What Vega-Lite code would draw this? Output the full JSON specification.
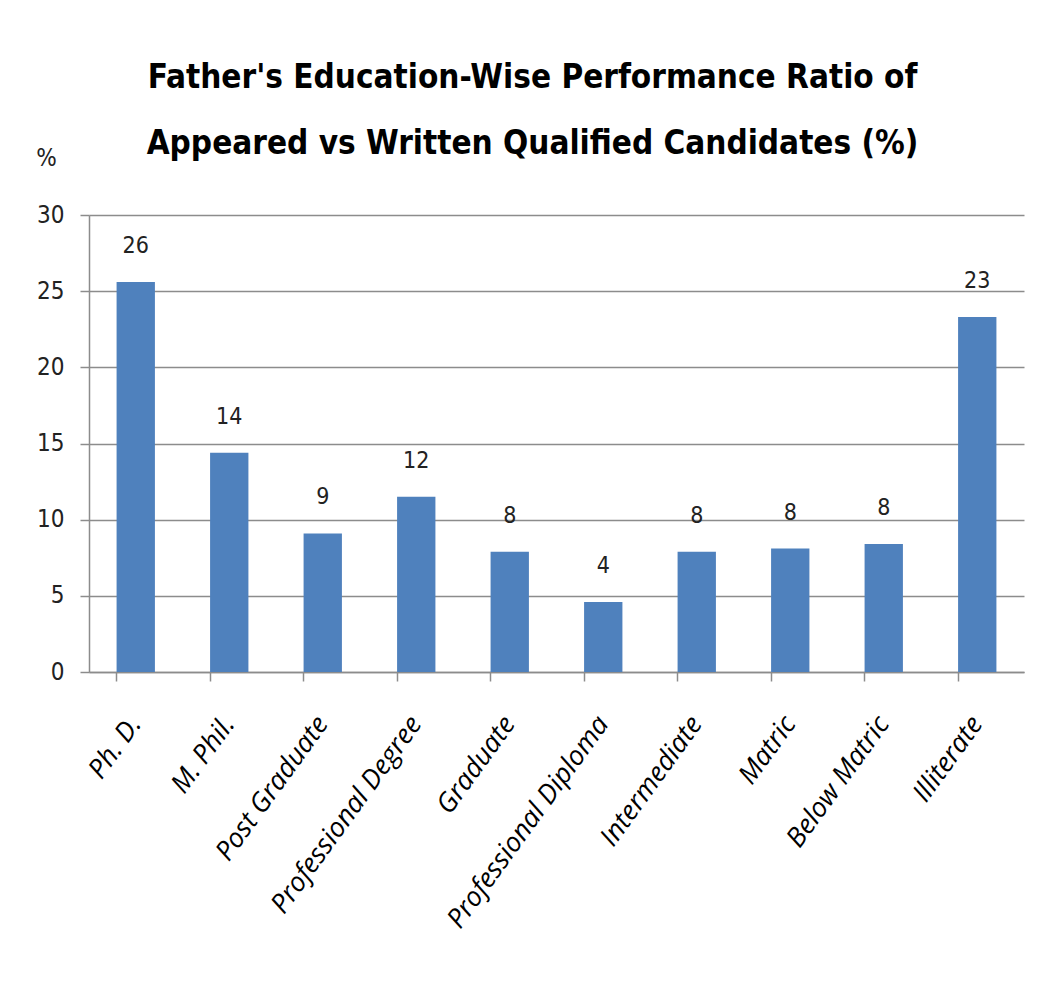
{
  "$schema": "https://vega.github.io/schema/vega-lite/v6.json",
  "autosize": "none",
  "width": 935,
  "height": 457,
  "padding": {"left": 89, "top": 215, "right": 17, "bottom": 313},
  "background": "white",
  "title": {
    "text": ["Father's Education-Wise Performance Ratio of", "Appeared  vs Written Qualified Candidates (%)"],
    "font": "DejaVu Sans Condensed",
    "fontWeight": "bold",
    "fontSize": 33,
    "lineHeight": 66,
    "color": "#000000",
    "anchor": "middle",
    "dx": -24,
    "offset": -15
  },
  "data": {
    "values": [
      {"education": "Ph. D.", "ratio": 25.6, "label": "26"},
      {"education": "M. Phil.", "ratio": 14.4, "label": "14"},
      {"education": "Post Graduate", "ratio": 9.1, "label": "9"},
      {"education": "Professional Degree", "ratio": 11.5, "label": "12"},
      {"education": "Graduate", "ratio": 7.9, "label": "8"},
      {"education": "Professional Diploma", "ratio": 4.6, "label": "4"},
      {"education": "Intermediate", "ratio": 7.9, "label": "8"},
      {"education": "Matric", "ratio": 8.1, "label": "8"},
      {"education": "Below Matric", "ratio": 8.4, "label": "8"},
      {"education": "Illiterate", "ratio": 23.3, "label": "23"}
    ]
  },
  "encoding": {
    "x": {
      "field": "education",
      "type": "nominal",
      "sort": null,
      "scale": {"paddingInner": 0.59, "paddingOuter": 0.295},
      "axis": {
        "title": null,
        "labelAngle": -54,
        "labelFont": "Open Sans",
        "labelFontStyle": "italic",
        "labelFontSize": 27,
        "labelLimit": 500,
        "labelColor": "#000000",
        "labelPadding": 38,
        "bandPosition": 0,
        "tickSize": 9,
        "tickColor": "#8c8c8c",
        "tickWidth": 1.5,
        "domainColor": "#8c8c8c",
        "domainWidth": 1.5,
        "grid": false
      }
    },
    "y": {
      "field": "ratio",
      "type": "quantitative",
      "scale": {"domain": [0, 30], "nice": false},
      "axis": {
        "values": [0, 5, 10, 15, 20, 25, 30],
        "title": "%",
        "titleAngle": 0,
        "titleX": -43,
        "titleY": -57,
        "titleAlign": "center",
        "titleBaseline": "middle",
        "titleFont": "DejaVu Sans Condensed",
        "titleFontWeight": "normal",
        "titleFontSize": 24,
        "titleColor": "#222222",
        "labelFont": "DejaVu Sans Condensed",
        "labelFontSize": 24,
        "labelColor": "#222222",
        "labelPadding": 16,
        "tickSize": 9,
        "tickColor": "#8c8c8c",
        "tickWidth": 1.5,
        "domainColor": "#8c8c8c",
        "domainWidth": 1.5,
        "grid": true,
        "gridColor": "#8c8c8c",
        "gridWidth": 1.5
      }
    }
  },
  "layer": [
    {"mark": {"type": "bar", "color": "#4F81BD"}},
    {
      "mark": {"type": "text", "baseline": "bottom", "dy": -24, "font": "DejaVu Sans Condensed", "fontSize": 23, "color": "#222222"},
      "encoding": {"text": {"field": "label"}}
    }
  ],
  "config": {"view": {"stroke": null}}
}
